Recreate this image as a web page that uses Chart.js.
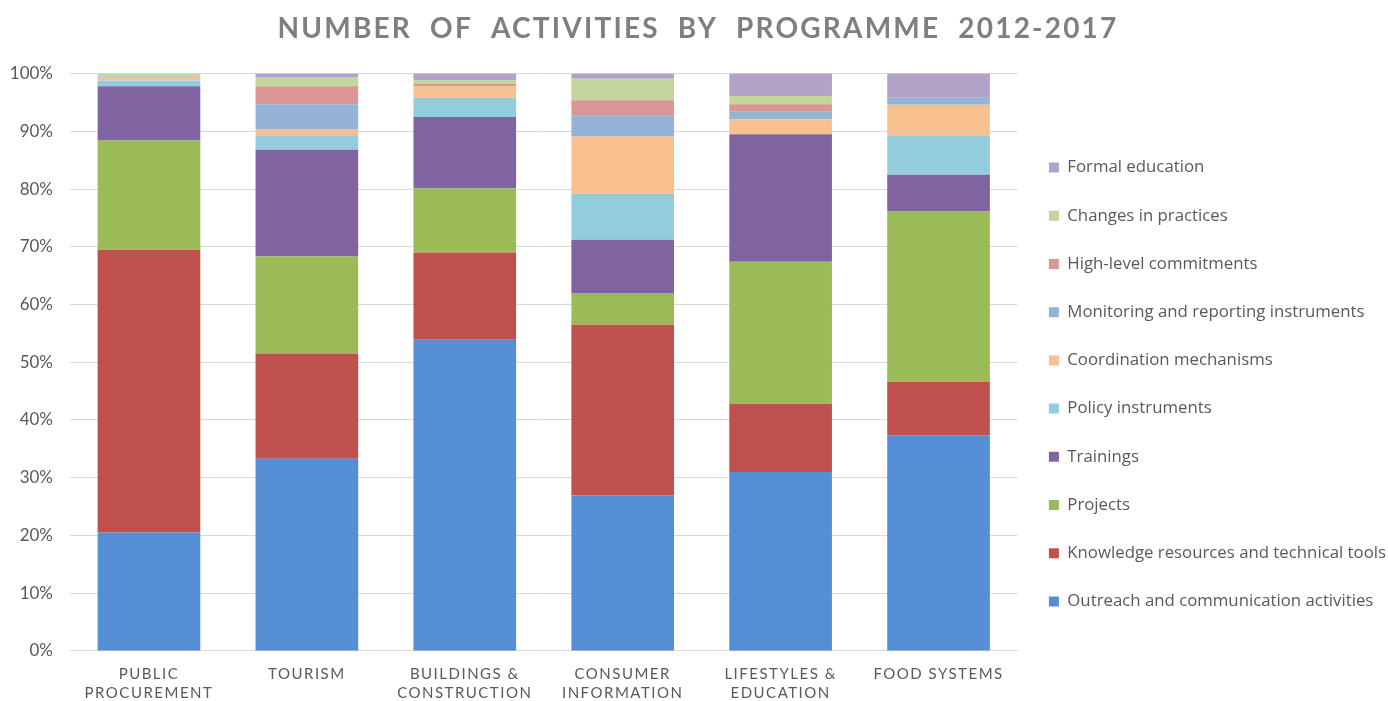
<!DOCTYPE html>
<html>
<head>
<meta charset="utf-8">
<script src="https://cdn.jsdelivr.net/npm/chart.js@4"></script>
<style>
  html, body { margin: 0; padding: 0; background: #fff; }
  #wrap { width: 1388px; height: 701px; }
</style>
</head>
<body>
<div id="wrap"><canvas id="myChart" width="1388" height="701"></canvas></div>
<script>
let programmes = [["PUBLIC", "PROCUREMENT"], ["TOURISM"], ["BUILDINGS &", "CONSTRUCTION"], ["CONSUMER", "INFORMATION"], ["LIFESTYLES &", "EDUCATION"], ["FOOD SYSTEMS"]];

let outreach    = [20.5, 33.3, 53.9, 26.9, 31.0, 37.3];
let knowledge   = [49.0, 18.2, 15.1, 29.6, 11.8,  9.3];
let projects    = [18.9, 16.8, 11.1,  5.5, 24.6, 29.5];
let trainings   = [ 9.4, 18.5, 12.4,  9.2, 22.1,  6.4];
let policy      = [ 1.0,  2.5,  3.3,  8.0,  0.0,  6.8];
let coordination= [ 0.6,  1.1,  2.0,  9.9,  2.6,  5.3];
let monitoring  = [ 0.1,  4.3,  0.0,  3.6,  1.3,  1.2];
let highLevel   = [ 0.0,  3.1,  0.4,  2.7,  1.3,  0.0];
let changes     = [ 0.5,  1.6,  0.7,  3.7,  1.4,  0.0];
let formal      = [ 0.0,  0.6,  1.1,  0.9,  3.9,  4.2];

let seriesNames = ["Outreach and communication activities", "Knowledge resources and technical tools", "Projects", "Trainings", "Policy instruments", "Coordination mechanisms", "Monitoring and reporting instruments", "High-level commitments", "Changes in practices", "Formal education"];
let seriesValues = [outreach, knowledge, projects, trainings, policy, coordination, monitoring, highLevel, changes, formal];
let colors = ['#558ED5', '#C0504D', '#9BBB59', '#8064A2', '#93CDDD', '#F9C08F', '#95B3D7', '#D99694', '#C3D69B', '#B3A2C7'];

// letter tracking on the title and the category labels
function tracked(fn, spacing) {
    return function () {
        let c = this.ctx;
        let old = c.letterSpacing;
        c.letterSpacing = spacing;
        fn.apply(this, arguments);
        c.letterSpacing = old;
    };
}
let tracking = {
    id: 'tracking',
    afterLayout(chart) {
        if (!chart._tracked) {
            chart._tracked = true;
            chart.titleBlock.draw = tracked(chart.titleBlock.draw, '2.2px');
            chart.scales.x.drawLabels = tracked(chart.scales.x.drawLabels, '1.5px');
        }
        // legend sits a little lower than the centre of the plot
        chart.legend.top += 27;
        chart.legend.bottom += 27;
    }
};

let ctx = document.getElementById("myChart").getContext('2d');
let myChart = new Chart(ctx, {
    type: 'bar',
    data: {
        labels: programmes,
        datasets: seriesNames.map((name, i) => ({
            label: name,
            data: seriesValues[i],
            backgroundColor: colors[i],
            borderWidth: 0,
            barPercentage: 0.65,
            categoryPercentage: 1.0
        }))
    },
    plugins: [tracking],
    options: {
        responsive: false,
        animation: false,
        layout: { padding: { left: 0, right: -8, top: 6, bottom: -8 } },
        plugins: {
            title: {
                display: true,
                text: "NUMBER  OF  ACTIVITIES  BY  PROGRAMME  2012-2017",
                color: '#7F7F7F',
                font: { family: 'Lato', size: 28, weight: 'bold' },
                padding: { top: 6, bottom: 28 }
            },
            legend: {
                position: 'right',
                reverse: true,
                maxWidth: 420,
                labels: {
                    color: '#595959',
                    font: { family: 'Open Sans', size: 16.8 },
                    boxWidth: 10,
                    boxHeight: 10,
                    padding: 31.4
                }
            },
            tooltip: { enabled: false }
        },
        scales: {
            x: {
                stacked: true,
                grid: { display: false },
                border: { color: '#D9D9D9' },
                ticks: {
                    color: '#595959',
                    font: { family: 'Lato', size: 15, lineHeight: 1.27 },
                    maxRotation: 0,
                    padding: 6
                }
            },
            y: {
                stacked: true,
                min: 0,
                max: 100,
                grid: { color: '#D9D9D9', drawTicks: false },
                border: { display: false },
                afterFit: scale => { scale.width = 70; },
                ticks: {
                    stepSize: 10,
                    color: '#595959',
                    font: { family: 'Lato', size: 17 },
                    padding: 17,
                    callback: v => v + '%'
                }
            }
        }
    }
});
</script>
</body>
</html>
